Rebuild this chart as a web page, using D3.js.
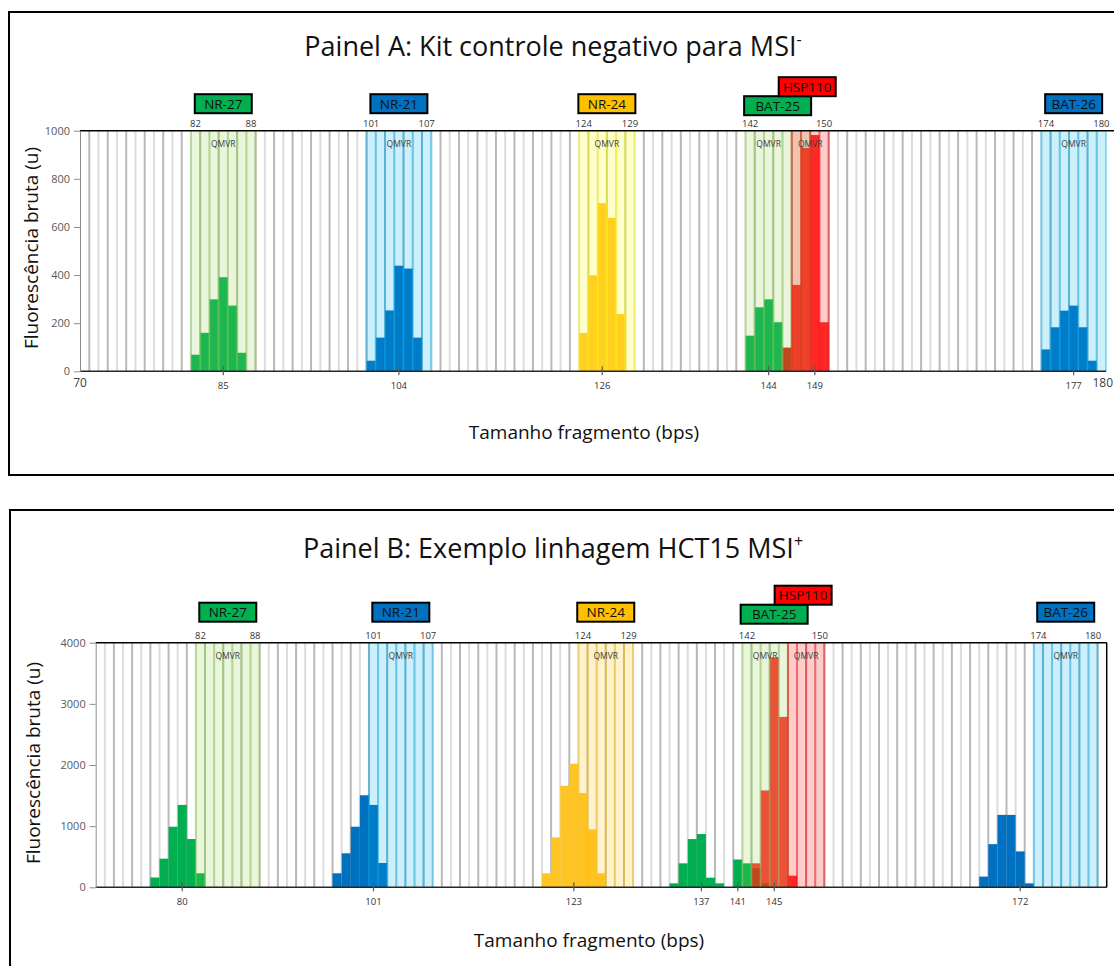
<!DOCTYPE html>
<html>
<head>
<meta charset="utf-8">
<script src="https://cdn.jsdelivr.net/npm/d3@7"></script>
<style>
  body { margin: 0; background: #fff; }
  svg { display: block; }
  text { font-family: "Open Sans", sans-serif; }
</style>
</head>
<body>
<svg id="chart" width="1114" height="966"></svg>
<script>
// ---------- Panel A: negative control kit (fragment size in bp, raw fluorescence) ----------
const binsA = d3.range(70, 181);
const nr27A  = [[82, 69], [83, 160], [84, 299], [85, 391], [86, 273], [87, 77]];
const nr21A  = [[101, 44], [102, 140], [103, 253], [104, 439], [105, 427], [106, 140]];
const nr24A  = [[124, 159], [125, 399], [126, 699], [127, 638], [128, 238]];
const bat25A = [[142, 148], [143, 266], [144, 299], [145, 204], [146, 98]];
const hsp110A = [[146, 98], [147, 359], [148, 928], [149, 982], [150, 204]];
const bat26A = [[174, 91], [175, 183], [176, 252], [177, 273], [178, 183], [179, 44]];
const windowsA = [["NR-27", 82, 88], ["NR-21", 101, 107], ["NR-24", 124, 129],
                  ["BAT-25", 142, 148], ["HSP110", 147, 150], ["BAT-26", 174, 180]];
const peakLabelsA = [85, 104, 126, 144, 149, 177];
const edgeLabelsA = [82, 88, 101, 107, 124, 129, 142, 150, 174, 180];
const yTicksA = [0, 200, 400, 600, 800, 1000];

// ---------- Panel B: HCT15 cell line (MSI+) ----------
const binsB = d3.range(71, 182);
const nr27B  = [[77, 160], [78, 468], [79, 991], [80, 1347], [81, 789], [82, 229]];
const nr21B  = [[97, 229], [98, 556], [99, 991], [100, 1505], [101, 1347], [102, 397]];
const nr24B  = [[120, 229], [121, 817], [122, 1661], [123, 2021], [124, 1541], [125, 947], [126, 229]];
const bat25B = [[134, 65], [135, 392], [136, 789], [137, 871], [138, 157], [139, 65],
                [141, 455], [142, 392], [143, 311], [144, 65]];
const hsp110B = [[143, 392], [144, 1584], [145, 3761], [146, 2787], [147, 190]];
const bat26B = [[168, 175], [169, 706], [170, 1184], [171, 1184], [172, 587], [173, 65]];
const windowsB = [["NR-27", 82, 88], ["NR-21", 101, 107], ["NR-24", 124, 129],
                  ["BAT-25", 142, 146], ["HSP110", 147, 150], ["BAT-26", 174, 180]];
const peakLabelsB = [80, 101, 123, 137, 141, 145, 172];
const edgeLabelsB = [82, 88, 101, 107, 124, 129, 142, 150, 174, 180];
const yTicksB = [0, 1000, 2000, 3000, 4000];

const markers = ["NR-27", "NR-21", "NR-24", "BAT-25", "HSP110", "BAT-26"];

// dye colours for peaks and marker tags
const barColor = {
  "NR-27": "#00b050", "NR-21": "#0070c0", "NR-24": "#ffc527",
  "BAT-25": "#00b050", "HSP110": "#ff0000", "BAT-26": "#0070c0"
};
const tagColor = {
  "NR-27": "#00b050", "NR-21": "#0070c0", "NR-24": "#ffc000",
  "BAT-25": "#00b050", "HSP110": "#ff0000", "BAT-26": "#0070c0"
};
// translucent QMVR window tint
const windowTint = {
  "NR-27": "#92d050", "NR-21": "#00b0f0", "NR-24": "#ffff00",
  "BAT-25": "#92d050", "HSP110": "#ff0000", "BAT-26": "#00b0f0"
};

const svg = d3.select("#chart");

function drawPanel(p) {
  const g = svg.append("g");
  const x = d3.scaleBand().domain(p.bins).range([p.left, p.right]).padding(0);
  const y = d3.scaleLinear().domain([0, p.yMax]).range([p.bottom, p.top]);
  const bw = x.bandwidth();
  const cx = v => x(v) + bw / 2;

  // frame
  g.append("rect").attr("x", p.frame[0]).attr("y", p.frame[1])
    .attr("width", p.frame[2]).attr("height", p.frame[3])
    .attr("fill", "none").attr("stroke", "#000").attr("stroke-width", 2);

  // title
  const t = g.append("text").attr("x", p.titleX).attr("y", p.titleY)
    .attr("text-anchor", "middle").attr("font-size", 27).attr("fill", "#111");
  t.append("tspan").text(p.title);
  t.append("tspan").text(p.titleSup).attr("font-size", 16).attr("dy", -11);

  // vertical gridlines on every bin boundary
  g.append("g").selectAll("line").data(p.bins.slice(1)).join("line")
    .attr("x1", d => x(d)).attr("x2", d => x(d))
    .attr("y1", p.top).attr("y2", p.bottom)
    .attr("stroke", d => d % 2 ? "#b8b8b8" : "#dcdcdc")
    .attr("stroke-width", 2);

  // fluorescence peaks
  p.series.forEach(s => {
    g.append("g").attr("opacity", s.name === "HSP110" ? 0.8 : 1)
      .selectAll("rect").data(s.values).join("rect")
      .attr("x", d => x(d[0])).attr("width", bw)
      .attr("y", d => y(d[1])).attr("height", d => y(0) - y(d[1]))
      .attr("fill", barColor[s.name]);
  });

  // QMVR windows
  p.windows.forEach(([name, a, b], i) => {
    const tint = (p.tint && p.tint[name]) || windowTint[name];
    const x0 = x(a), x1 = x(b) + bw;
    g.append("rect").attr("x", x0).attr("width", x1 - x0)
      .attr("y", p.top).attr("height", p.bottom - p.top)
      .attr("fill", tint).attr("fill-opacity", 0.2);
    g.append("g").selectAll("line").data(d3.range(a, b + 2)).join("line")
      .attr("x1", d => x0 + (d - a) * bw).attr("x2", d => x0 + (d - a) * bw)
      .attr("y1", p.top).attr("y2", p.bottom)
      .attr("stroke", tint).attr("stroke-opacity", 0.4).attr("stroke-width", 2);
    const next = p.windows[i + 1];
    const labelEnd = next && next[1] <= b ? next[1] - 1 : b;
    g.append("text").attr("x", (x0 + x(labelEnd) + bw) / 2).attr("y", p.top + 16)
      .attr("text-anchor", "middle").attr("font-size", 8.5).attr("fill", "#404040")
      .text("QMVR");
  });

  // plot borders
  g.append("line").attr("x1", p.left).attr("x2", p.right + (p.topExtend || 0))
    .attr("y1", p.top).attr("y2", p.top).attr("stroke", "#000").attr("stroke-width", 1.5);
  g.append("line").attr("x1", p.left).attr("x2", p.right)
    .attr("y1", p.bottom).attr("y2", p.bottom).attr("stroke", "#262626").attr("stroke-width", 1.5);
  if (p.rightBorder) {
    g.append("line").attr("x1", p.right).attr("x2", p.right)
      .attr("y1", p.top).attr("y2", p.bottom).attr("stroke", "#000").attr("stroke-width", 1.5);
  }

  // y axis
  const ya = g.append("g").attr("transform", `translate(${p.left},0)`)
    .call(d3.axisLeft(y).tickValues(p.yTicks).tickFormat(d3.format("d"))
      .tickSize(6).tickSizeOuter(0).tickPadding(4));
  ya.select(".domain").attr("stroke", "#8c8c8c");
  ya.selectAll(".tick line").attr("stroke", "#8c8c8c");
  ya.selectAll("text").attr("font-family", "Open Sans, sans-serif")
    .attr("font-size", 11).attr("fill", "#595959");

  // window edge labels above the plot
  g.append("g").selectAll("text").data(p.edgeLabels).join("text")
    .attr("x", d => cx(d)).attr("y", p.top - 4)
    .attr("text-anchor", "middle").attr("font-size", 9.5).attr("fill", "#333")
    .text(d => d);

  // peak position ticks and labels
  const pk = g.append("g");
  pk.selectAll("line").data(p.peakLabels).join("line")
    .attr("x1", d => cx(d)).attr("x2", d => cx(d))
    .attr("y1", p.bottom - 5).attr("y2", p.bottom + 4)
    .attr("stroke", "#595959").attr("stroke-width", 1.2);
  pk.selectAll("text").data(p.peakLabels).join("text")
    .attr("x", d => cx(d)).attr("y", p.bottom + 18)
    .attr("text-anchor", "middle").attr("font-size", 9.5).attr("fill", "#333")
    .text(d => d);

  // range ends of the fragment axis
  if (p.rangeLabels) {
    g.append("text").attr("x", p.left).attr("y", p.bottom + 16).attr("text-anchor", "middle")
      .attr("font-size", 12).attr("fill", "#404040").text(p.bins[0]);
    g.append("text").attr("x", 1113).attr("y", p.bottom + 16).attr("text-anchor", "end")
      .attr("font-size", 12).attr("fill", "#404040").text(p.bins[p.bins.length - 1]);
  }

  // marker tags
  const byName = Object.fromEntries(p.windows.map(w => [w[0], w]));
  markers.forEach(name => {
    const [, a, b] = byName[name];
    let c, w = 57, top = p.top + p.tagY;
    if (name === "BAT-25") { c = (x(a) + x(a + 4) + bw) / 2 + 9; w = 67; top = p.top + p.tagY + 2; }
    else if (name === "HSP110") { c = (x(a) + x(b) + bw) / 2 - 3; top = p.top + p.tagY - 17; }
    else c = (x(a) + x(b) + bw) / 2;
    g.append("rect").attr("x", c - w / 2).attr("y", top).attr("width", w).attr("height", 19)
      .attr("fill", tagColor[name]).attr("stroke", "#000").attr("stroke-width", 2);
    g.append("text").attr("x", c).attr("y", top + 14.5).attr("text-anchor", "middle")
      .attr("font-size", 13.5).attr("fill", "#111").text(name);
  });

  // axis titles
  g.append("text").attr("x", p.xTitleX).attr("y", p.xTitleY).attr("text-anchor", "middle")
    .attr("font-size", 19).attr("fill", "#111").text("Tamanho fragmento (bps)");
  g.append("text").attr("transform", `translate(${p.yTitleX},${p.yTitleY}) rotate(-90)`)
    .attr("text-anchor", "middle").attr("font-size", 19).attr("fill", "#111")
    .text("Fluorescência bruta (u)");
}

drawPanel({
  bins: binsA, left: 80, right: 1106, top: 130.7, bottom: 371.3, yMax: 1000, yTicks: yTicksA,
  frame: [9, 12, 1112, 463], title: "Painel A: Kit controle negativo para MSI", titleSup: "-",
  titleX: 553, titleY: 56,
  series: [
    { name: "NR-27", values: nr27A }, { name: "NR-21", values: nr21A },
    { name: "NR-24", values: nr24A }, { name: "BAT-25", values: bat25A },
    { name: "HSP110", values: hsp110A }, { name: "BAT-26", values: bat26A }
  ],
  windows: windowsA, peakLabels: peakLabelsA, edgeLabels: edgeLabelsA,
  rangeLabels: true, tagY: -36.5, topExtend: 8,
  xTitleX: 584, xTitleY: 439, yTitleX: 38, yTitleY: 248
});

drawPanel({
  bins: binsB, left: 95.7, right: 1106.7, top: 642.7, bottom: 887.3, yMax: 4000, yTicks: yTicksB,
  frame: [10, 510, 1112, 470], title: "Painel B: Exemplo linhagem HCT15 MSI", titleSup: "+",
  titleX: 553, titleY: 558,
  series: [
    { name: "NR-27", values: nr27B }, { name: "NR-21", values: nr21B },
    { name: "NR-24", values: nr24B }, { name: "BAT-25", values: bat25B },
    { name: "HSP110", values: hsp110B }, { name: "BAT-26", values: bat26B }
  ],
  windows: windowsB, peakLabels: peakLabelsB, edgeLabels: edgeLabelsB,
  tint: { "NR-24": "#ffc000" }, rightBorder: true,
  rangeLabels: false, tagY: -40,
  xTitleX: 589, xTitleY: 947, yTitleX: 40, yTitleY: 763
});
</script>
</body>
</html>
